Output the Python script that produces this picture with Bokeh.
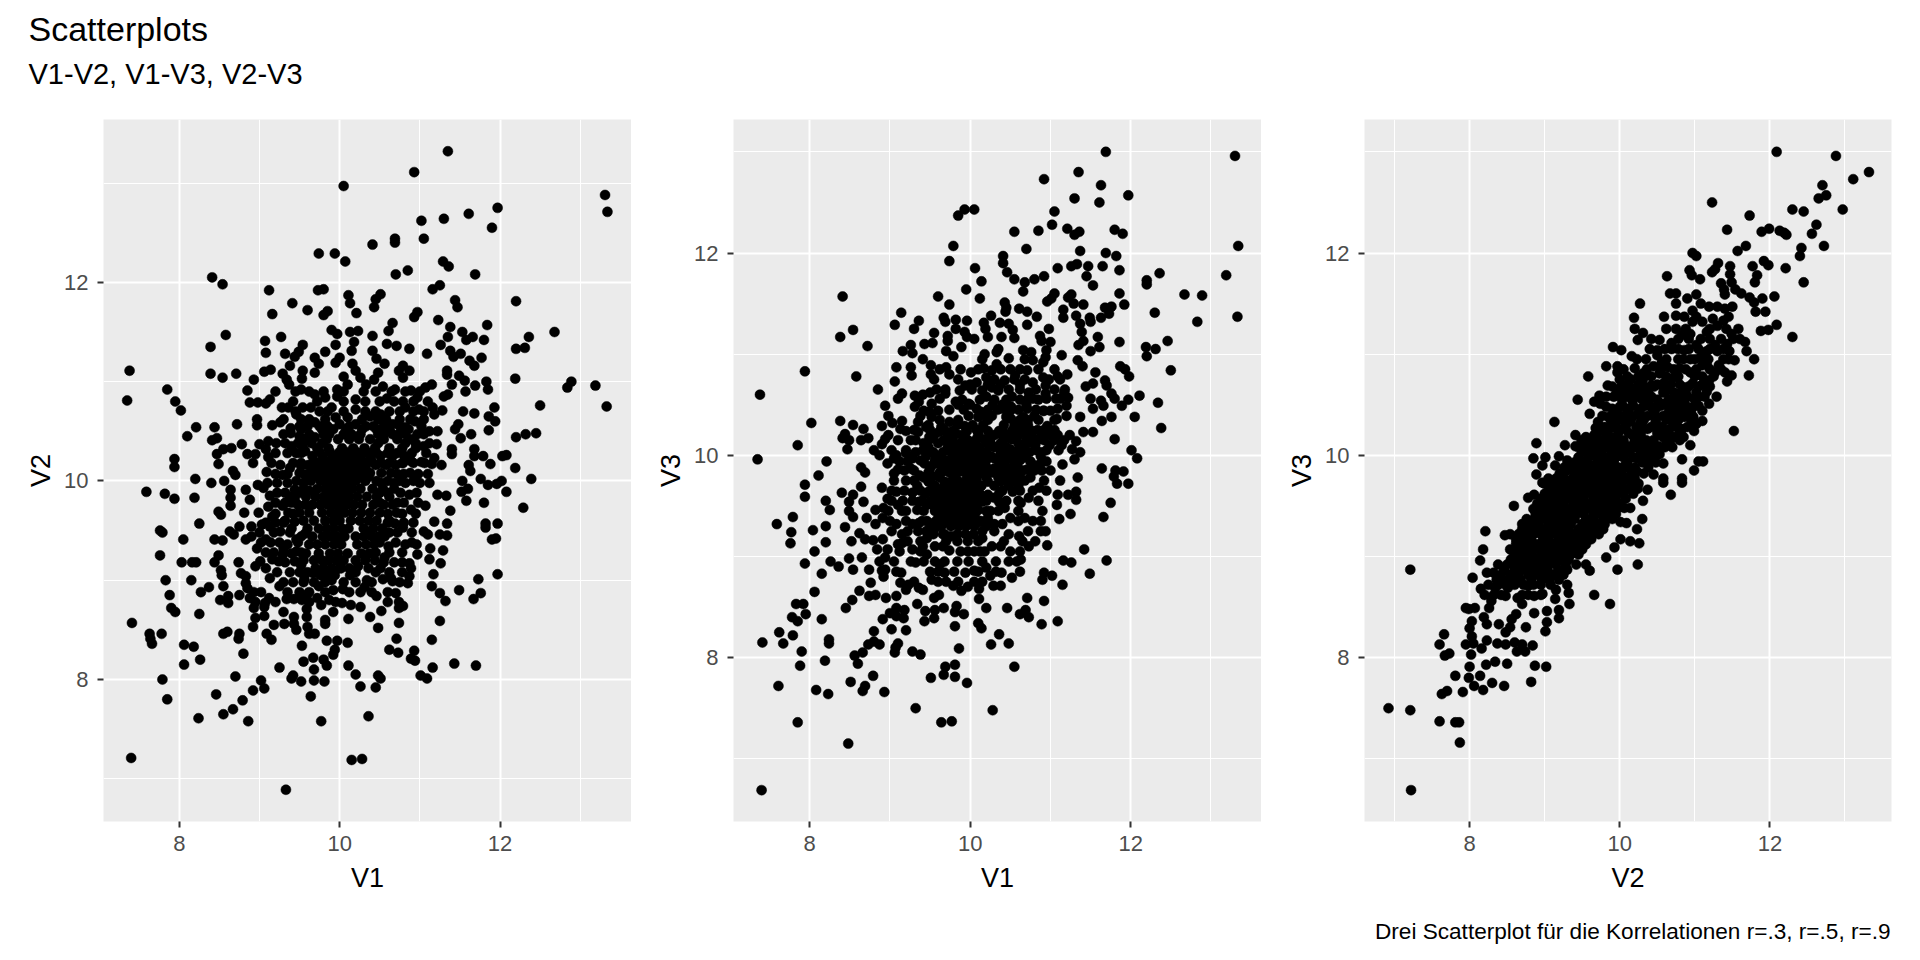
from bokeh.embed import file_html
from bokeh.layouts import column, row
from bokeh.models import ColumnDataSource, FixedTicker, Label, Range1d
from bokeh.plotting import figure
from bokeh.resources import INLINE

TITLE = "Scatterplots"
SUBTITLE = "V1-V2, V1-V3, V2-V3"
CAPTION = "Drei Scatterplot für die Korrelationen r=.3, r=.5, r=.9"
major_ticks = [8, 10, 12]
minor_ticks = [7, 9, 11, 13]

p1_points = [
(11.35,13.32),(10.93,13.11),(10.05,12.97),(13.31,12.88),(13.34,12.71),(11.97,12.75),(11.90,12.55),(11.61,12.69),(11.30,12.64),(11.02,12.62),(11.05,12.44),(10.69,12.44),(10.69,12.40),(10.41,12.38),(9.74,12.29),(9.94,12.29),(10.07,12.21),(11.29,12.21),(11.36,12.16),(10.85,12.12),(10.70,12.08),(11.69,12.08),(8.41,12.05),(8.54,11.98),(9.12,11.92),(9.73,11.92),(9.80,11.93),(11.16,11.93),(11.25,11.97),(10.11,11.87),(10.13,11.79),(10.51,11.88),(10.45,11.83),(10.43,11.75),(12.20,11.81),(11.44,11.82),(11.47,11.75),(9.41,11.79),(9.60,11.72),(9.85,11.71),(9.80,11.67),(9.16,11.68),(10.21,11.69),(10.97,11.70),(10.93,11.65),(11.23,11.62),(10.66,11.59),(11.84,11.57),(11.38,11.55),(10.61,11.51),(12.68,11.50),(9.90,11.52),(9.97,11.48),(10.13,11.50),(10.23,11.51),(11.53,11.50),(11.66,11.45),(11.58,11.42),(11.35,11.45),(12.36,11.45),(8.58,11.47),(9.27,11.45),(9.07,11.41),(10.41,11.46),(10.18,11.40),(11.80,11.42),(8.39,11.35),(9.54,11.37),(9.95,11.37),(10.59,11.38),(10.71,11.36),(10.87,11.33),(12.20,11.33),(12.31,11.34),(11.26,11.37),(9.08,11.29),(9.32,11.28),(9.49,11.30),(9.82,11.30),(10.15,11.31),(10.41,11.31),(11.09,11.28),(11.38,11.31),(11.51,11.28),(9.69,11.24),(10.0,11.24),(9.44,11.25),(10.46,11.23),(11.42,11.25),(11.77,11.24),(11.62,11.21),(11.68,11.16),(10.56,11.18),(10.79,11.16),(9.74,11.18),(9.38,11.16),(9.95,11.19),(10.16,11.18),(7.38,11.11),(8.39,11.08),(8.71,11.08),(8.54,11.04),(9.06,11.10),(9.14,11.12),(9.29,11.08),(9.54,11.11),(9.69,11.09),(10.87,11.11),(11.34,11.11),(10.2,11.11),(10.48,11.09),(10.74,11.11),(11.34,11.07),(8.93,11.02),(9.34,11.02),(9.53,11.03),(10.05,11.05),(10.43,11.02),(11.49,11.06),(11.56,11.01),(12.19,11.03),(10.79,11.04),(10.26,11.04),(12.89,11.0),(12.84,10.94),(13.19,10.96),(13.33,10.75),(7.35,10.81),(7.85,10.92),(7.95,10.80),(8.02,10.71),(8.85,10.91),(8.88,10.79),(8.98,10.79),(9.08,10.78),(9.13,10.82),(9.52,10.92),(9.37,10.97),(9.69,10.87),(9.97,10.92),(10.1,10.97),(10.33,10.97),(10.54,10.95),(10.69,10.92),(10.89,10.91),(11.07,10.94),(11.15,10.97),(11.4,10.97),(11.57,10.9),(11.69,10.96),(11.83,11.0),(11.85,10.92),(11.35,10.87),(11.3,10.85),(9.97,10.85),(9.82,10.84),(10.2,10.82),(10.59,10.83),(10.79,10.8),(10.97,10.84),(10.82,10.74),(11.93,10.74),(12.5,10.76),(9.28,10.74),(9.36,10.74),(9.54,10.74),(9.64,10.74),(9.9,10.74),(10.2,10.72),(10.99,10.72),(11.16,10.74),(11.28,10.71),(11.54,10.70),(11.68,10.68),(11.86,10.65),(11.94,10.6),(11.18,10.67),(10.51,10.67),(10.38,10.65),(9.95,10.64),(10.1,10.64),(9.46,10.67),(8.97,10.62),(8.97,10.56),(8.72,10.57),(9.26,10.59),(9.16,10.56),(9.69,10.59),(8.44,10.54),(8.21,10.54),(9.39,10.53),(10,10.57),(10.2,10.57),(10.33,10.55),(10.66,10.57),(10.82,10.54),(10.94,10.60),(11.48,10.57),(11.44,10.52),(11.86,10.51),(11.12,10.5),(11.22,10.5),(11.64,10.47),(12.45,10.48),(12.32,10.47),(12.2,10.44),(8.1,10.45),(8.47,10.43),(8.41,10.41),(9.39,10.48),(9.69,10.44),(9.87,10.47),(10.26,10.47),(10.48,10.47),(10.74,10.47),(10.97,10.47),(9.5,10.45),(11.51,10.43),(8.78,10.37),(8.55,10.32),(8.65,10.33),(9.0,10.37),(9.11,10.4),(9.21,10.38),(9.4,10.35),(9.54,10.35),(9.08,10.32),(11.21,10.37),(11.68,10.32),(11.05,10.35),(11.4,10.32),(11.4,10.27),(8.47,10.27),(8.85,10.27),(8.95,10.27),(9.11,10.24),(9.46,10.28),(9.57,10.3),(7.94,10.22),(7.94,10.14),(8.49,10.17),(8.92,10.18),(11.79,10.25),(12.08,10.26),(12.03,10.25),(11.68,10.25),(11.18,10.23),(11.88,10.17),(11.61,10.16),(11.63,10.1),(12.19,10.13),(11.15,10.17),(11.27,10.16),(11.02,10.19),(10.89,10.2),(10.79,10.18),(9.26,10.16),(9.38,10.13),(9.52,10.15),(8.67,10.1),(8.7,10.06),(9.09,10.09),(9.29,10.06),(9.57,10.06),(8.2,10.02),(12.39,10.02),(11.76,10.02),(11.53,10.0),(12.02,10.0),
(7.59,9.89),(7.82,9.87),(7.94,9.82),(8.19,9.83),(8.4,9.98),(8.56,10.0),(8.64,9.91),(8.64,9.83),(8.64,9.75),(8.83,9.91),(8.88,9.81),(8.98,9.96),(9.05,9.93),(9.13,9.85),(9.11,9.74),(9.29,9.75),(8.49,9.69),(8.52,9.66),(8.81,9.68),(8.99,9.68),(9.16,9.64),(9.36,9.68),(9.44,9.91),(9.44,9.82),(9.62,9.9),(9.57,9.76),(8.25,9.57),(8.75,9.54),(8.9,9.54),(9.03,9.56),(9.13,9.54),(9.26,9.49),(8.63,9.49),(8.68,9.46),(9.44,9.59),(7.76,9.5),(7.79,9.48),(8.05,9.41),(8.44,9.41),(8.54,9.4),(8.83,9.41),(8.9,9.44),(9.08,9.41),(9.46,9.41),(9.57,9.47),(8.97,9.32),(9.3,9.32),(9.29,9.26),(9.46,9.29),(7.76,9.25),(8.49,9.25),(8.03,9.18),(8.16,9.18),(8.21,9.18),(8.44,9.18),(8.74,9.18),(9.01,9.19),(9.16,9.21),(8.95,9.14),(9.08,9.12),(9.24,9.19),(9.44,9.19),(9.52,9.15),(8.52,9.1),(8.53,9.05),(8.77,9.07),(8.83,9.04),(7.83,9.0),(8.15,9.0),(9.13,9.02),(9.56,9.01),(9.67,9.07),(8.37,8.93),(8.27,8.88),(8.55,8.94),(8.83,8.97),(8.85,8.92),(8.93,8.88),(8.75,8.85),(8.61,8.84),(8.88,8.82),(9.25,8.94),(7.88,8.85),(8.51,8.8),(8.61,8.77),(9.34,8.81),(9.43,8.81),(9.53,8.8),(9.59,8.85),(9.12,8.82),(9.07,8.77),(8.93,8.72),(9.06,8.73),(7.9,8.72),(7.95,8.68),(8.25,8.66),(9.3,8.68),(9.59,8.71),(9.59,8.63),(9.43,8.63),(9.06,8.64),(8.95,8.62),(9.82,8.6),(9.82,8.56),(7.41,8.57),(8.92,8.53),(9.18,8.55),(9.31,8.56),(9.43,8.56),(9.46,8.5),(9.6,8.53),(10.11,8.61),(10.38,8.63),(10.74,8.57),(11.25,8.59),(10.48,8.52),(10.52,8.69),(8.55,8.46),(8.6,8.48),(8.75,8.46),(8.74,8.41),(9.09,8.46),(9.15,8.4),(9.62,8.46),(9.69,8.46),(7.63,8.46),(7.64,8.41),(7.66,8.36),(7.78,8.46),(10.71,8.41),(11.15,8.4),(9.84,8.39),(9.97,8.39),(10.1,8.37),(8.06,8.35),(8.18,8.33),(9.53,8.34),(8.8,8.26),(9.94,8.3),(9.92,8.25),(10.62,8.3),(10.73,8.27),(10.93,8.29),(10.89,8.21),(10.94,8.19),(8.26,8.2),(8.06,8.15),(9.25,8.12),(9.55,8.18),(9.67,8.22),(9.8,8.2),(9.84,8.14),(9.68,8.1),(10.11,8.14),(11.16,8.12),(11.43,8.16),(11.7,8.14),(8.7,8.03),(7.79,8.0),(9.4,8.01),(9.42,8.04),(9.52,7.98),(9.68,7.99),(9.81,7.98),(9.02,7.99),(9.06,7.91),(8.92,7.89),(10.2,8.05),(10.48,8.04),(10.51,8.01),(10.26,7.93),(10.45,7.92),(11.01,8.04),(11.09,8.01),(8.46,7.85),(8.79,7.79),(9.64,7.83),(7.85,7.8),(8.67,7.7),(8.55,7.65),(8.24,7.61),(8.86,7.58),(9.77,7.58),(10.36,7.63),(7.4,7.21),(10.15,7.19),(10.28,7.2),(9.33,6.89),
(10.87,9.86),(11.07,9.75),(11.18,9.59),(11.38,9.7),(11.33,9.85),(11.22,9.86),(11.58,9.8),(11.52,9.89),(11.6,9.92),(11.8,9.78),(12.08,9.89),(11.85,9.96),(11.96,9.97),(12.29,9.73),(11.82,9.57),(11.82,9.53),(11.97,9.57),(11.34,9.57),(11.34,9.45),(11.25,9.46),(11.1,9.46),(11.05,9.49),(11.9,9.41),(11.95,9.42),(11.29,9.3),(11.13,9.32),(11.12,9.21),(11.26,9.17),(11.97,9.06),(11.73,9.01),(11.17,9.06),(11.15,8.94),(11.49,8.9),(11.76,8.87),(11.67,8.81),(11.25,8.87),(11.32,8.79),(10.97,9.26),(10.87,9.17),(10.89,9.12),(10.82,9.36),(10.96,9.36),(10.87,9.04),(10.85,8.97),(10.64,9.02),(10.54,9.01),(10.66,8.99),(10.7,8.87),(10.74,8.78),(10.79,8.74),(10.74,8.72),(10.46,8.84),(10.34,9.0),(10.26,8.88),(10.31,8.93),(10.04,8.91),(9.74,8.94),(9.92,8.9),(9.72,8.82),(9.77,8.75),(9.92,8.68),(9.87,8.8),(10.03,8.77),(10.14,8.75),(10.26,8.73),(9.9,9.0),(10.13,9.05),(10,9.12),(10.23,9.14),(10.36,9.12),(10.51,9.12),(10.56,9.23),(10.61,9.34),(10.56,9.44),(10.71,9.68),(10.89,9.71),(10.69,9.57),(10.79,9.53),(10.38,9.49),
]
p1_core_rows = [
(10.9,[9.2,9.45,9.62,9.8,10.05,10.3,10.45,10.65,10.82,11.0]),
(10.8,[9.42,9.72,10.05,10.32,10.5,10.68,10.92,11.1]),
(10.7,[9.45,9.75,9.85,10.05,10.32,10.45,10.62,10.75,10.92,11.05]),
(10.62,[9.3,9.52,9.62,9.82,10.28,10.48,10.58,10.75,10.88,11.05]),
(10.55,[9.5,9.6,9.75,9.85,10.12,10.42,10.55,10.75,11.02]),
(10.52,[9.52,9.78,9.92,10.08,10.28,10.46,10.62,10.86]),
(10.47,[9.3,9.62,9.8,10.05,10.15,10.55,10.66,10.82,11.05]),
(10.42,[9.58,9.84,9.98,10.12,10.24,10.38,10.55,10.72,10.9]),
(10.38,[9.32,9.48,9.65,9.78,10.48,10.82,10.95,11.12]),
(10.33,[9.72,9.86,10.03,10.17,10.31,10.44,10.62,10.78,10.95]),
(10.29,[9.75,9.88,10.0,10.1,10.21,10.34]),
(10.28,[9.2,9.35,9.52,10.46,10.6,10.72,10.9,11.08]),
(10.25,[9.66,9.79,9.92,10.04,10.14,10.26,10.38,10.51,10.66,10.81]),
(10.2,[9.68,9.78,9.88,9.98,10.08,10.18,10.28,10.4]),
(10.18,[9.15,9.42,9.52,10.52,10.62,10.78,10.92,11.06]),
(10.16,[9.61,9.73,9.83,9.93,10.03,10.12,10.22,10.33,10.45,10.58,10.7]),
(10.12,[9.66,9.76,9.86,9.96,10.08,10.2,10.32]),
(10.08,[9.5,9.7,9.8,9.88,9.97,10.06,10.16,10.27,10.38,10.52,10.64,10.88]),
(10.07,[9.2,9.35,9.6,10.72,10.8,10.98,11.1]),
(10.04,[9.6,9.73,9.82,9.9,10.0,10.08,10.15,10.25,10.36]),
(10.0,[9.46,9.64,9.76,9.85,9.94,10.02,10.11,10.2,10.32,10.46,10.6,10.75,10.92]),
(9.98,[9.1,9.22,9.35,9.55,10.52,10.68,10.82,11.0,11.12]),
(9.92,[9.55,9.72,9.82,9.9,9.98,10.07,10.16,10.26,10.41,10.54,10.68]),
(9.88,[9.22,9.32,9.5,10.5,10.6,10.76,10.96]),
(9.84,[9.38,9.58,9.7,9.8,9.88,9.96,10.04,10.12,10.22,10.34,10.46,10.62]),
(9.78,[9.2,9.32,9.4,10.5,10.72,10.8,10.98]),
(9.76,[9.48,9.66,9.76,9.85,9.92,10.0,10.09,10.18,10.28,10.42,10.55,10.66]),
(9.68,[9.5,9.62,9.78,9.89,9.98,10.06,10.16,10.27,10.38,10.5]),
(9.67,[9.2,9.42,10.6,10.78,10.95]),
(9.6,[9.32,9.55,9.68,9.82,9.92,10.0,10.14,10.25,10.36,10.46,10.62]),
(9.58,[9.08,9.2,9.3,10.6,10.8,10.92]),
(9.52,[9.4,9.6,9.74,9.84,9.93,10.03,10.11,10.3,10.42,10.53]),
(9.48,[9.0,9.18,9.38,10.62,10.72,10.9]),
(9.44,[9.52,9.66,9.79,9.88,9.97,10.06,10.2,10.3,10.4,10.48]),
(9.38,[9.02,9.14,9.25,9.48,10.5,10.7,10.9]),
(9.36,[9.35,9.62,9.72,9.82,9.93,10.02,10.22,10.33,10.43]),
(9.28,[9.08,9.18,9.52,10.45,10.62,10.78]),
(9.27,[9.4,9.58,9.74,9.88,9.98,10.1,10.27,10.37]),
(9.2,[9.55,9.68,9.78,9.86,9.96,10.05,10.2,10.32,10.44]),
(9.18,[9.32,9.5,10.55,10.68,10.78]),
(9.12,[9.7,9.8,9.9,10.02,10.12]),
(9.08,[9.22,9.38,9.5,9.6,10.2,10.45,10.62,10.78]),
(9.05,[9.76,9.84,9.94]),
(8.98,[9.3,9.42,9.55,9.68,9.82,10.05,10.2,10.4,10.75]),
(8.88,[9.02,9.35,9.5,9.62,9.82,10.12,10.4,10.6]),
(8.78,[8.95,9.2,9.62,9.95,10.6]),
]

p2_points = [
(11.69,13.0),(13.3,12.96),(11.35,12.8),(10.92,12.73),(11.63,12.67),(11.97,12.57),(11.3,12.54),(11.61,12.5),(10.05,12.43),(9.93,12.43),(9.85,12.37),(11.05,12.41),(11.02,12.28),(10.55,12.21),(10.85,12.22),(11.21,12.24),(11.3,12.18),(11.36,12.21),(11.8,12.23),(11.9,12.19),(9.79,12.07),(10.7,12.04),(11.37,12.02),(11.69,12.0),(11.82,11.97),(13.34,12.07),(10.41,11.97),(10.41,11.9),(9.74,11.92),(10.06,11.85),(10.46,11.81),(10.55,11.74),(11.26,11.87),(11.33,11.89),(11.47,11.87),(11.65,11.87),(11.09,11.85),(11.86,11.83),(12.36,11.8),(13.19,11.78),(11.45,11.77),(10.92,11.77),(10.8,11.74),(10.68,11.71),(10.14,11.72),(12.2,11.73),(12.2,11.69),(11.53,11.68),(9.95,11.64),(10.66,11.62),(8.41,11.57),(9.6,11.57),(10.12,11.55),(11.05,11.6),(11.01,11.55),(10.96,11.52),(11.26,11.59),(11.22,11.56),(11.86,11.6),(12.67,11.59),(12.89,11.58),(9.74,11.49),(10.43,11.51),(10.45,11.46),(11.29,11.5),(11.41,11.49),(11.68,11.46),(11.76,11.47),(11.92,11.49),(10.61,11.45),(10.71,11.42),(11.16,11.44),(9.14,11.41),(12.3,11.41),(10.26,11.38),(10.44,11.42),(9.67,11.36),(9.69,11.32),(9.82,11.34),(9.96,11.33),(9.36,11.33),(9.06,11.29),(10.83,11.37),(11.16,11.36),(11.32,11.38),(11.49,11.36),(11.63,11.36),(11.73,11.4),(11.5,11.32),(13.33,11.37),(12.83,11.32),(10.17,11.31),(10.37,11.31),(10.48,11.3),(10.71,11.29),(11.37,11.3),(9.3,11.25),(8.54,11.24),(10.19,11.25),(9.82,11.25),(10.53,11.24),(10.98,11.25),(11.39,11.22),(9.55,11.21),(9.93,11.22),(8.38,11.17),(9.72,11.18),(9.96,11.17),(10.22,11.17),(10.39,11.17),(10.55,11.16),(10.87,11.18),(10.05,11.15),(9.72,11.13),(10.89,11.13),(11.59,11.17),(11.0,11.12),(9.43,11.1),(9.53,11.11),(11.41,11.13),(11.35,11.09),(11.86,11.12),(12.46,11.13),(9.26,11.09),(9.89,11.07),(8.72,11.08),(11.61,11.07),(11.5,11.03),(9.16,11.03),(9.7,11.03),(10.35,11.05),(10.33,11.02),(10.66,11.04),(10.76,11.02),(10.95,11.04),(12.19,11.07),(12.31,11.05),(12.2,10.98),(9.28,11.01),(9.79,10.98),(10.18,11.0),(10.94,10.97),(11.14,10.99),(9.41,10.95),(10.15,10.95),(10.48,10.96),(10.68,10.95),(10.78,10.94),(10.33,10.9),(10.91,10.92),(11.34,10.94),(11.4,10.88),(9.51,10.89),(9.08,10.87),(9.26,10.87),(9.7,10.87),(11.87,10.88),(11.93,10.85),(12.5,10.84),(7.94,10.83),(10.01,10.82),(10.17,10.86),(10.27,10.84),(10.38,10.85),(10.71,10.84),(11.56,10.82),(11.98,10.78),(8.58,10.78),(9.27,10.79),(9.51,10.8),(9.74,10.8),(11.09,10.78),(11.21,10.8),(10.2,10.77),(10.56,10.79),(10.91,10.77),(10.43,10.74),(9.06,10.73),(10.08,10.72),(10.78,10.72),(11.68,10.74),(11.53,10.71),(11.44,10.68),(10.94,10.69),(9.94,10.69),(10.27,10.67),(8.85,10.65),(9.69,10.65),(9.87,10.64),(10.15,10.64),(10.35,10.64),(11.7,10.69),(9.5,10.62),(9.41,10.6),(9.31,10.59),(9.15,10.61),(11.17,10.62),(10.73,10.62),(10.94,10.61),(11.76,10.61),(12.11,10.59),(7.38,10.6),(10.52,10.58),(9.1,10.56),(9.69,10.61),(10.2,10.58),(10.78,10.56),(11.5,10.56),(11.63,10.54),(11.8,10.56),(11.07,10.56),(11.22,10.57),(11.97,10.55),(12.34,10.52),(9.82,10.53),(9.98,10.51),(9.52,10.51),(9.36,10.53),(11.2,10.49),(11.89,10.49),(11.66,10.49),(8.94,10.49),(9.31,10.48),(10.08,10.46),(11.53,10.46),(10.51,10.48),(10.71,10.46),(11.09,10.46),(9.49,10.43),(10.13,10.43),(10.4,10.46),(10.91,10.44),(10.8,10.39),(9.38,10.39),(11.2,10.39),(11.37,10.38),(9.52,10.38),(8.98,10.39),(9.98,10.39),(10.27,10.39),(11.08,10.36),(11.76,10.38),(12.05,10.38),(8.38,10.34),(9.15,10.34),(10.51,10.36),(11.64,10.34),(9.74,10.33),(10.22,10.35),(9.35,10.33),(8.02,10.32),(8.54,10.3),(8.9,10.29),(9.03,10.32),(9.93,10.29),(10.55,10.29),(10.96,10.29),(9.45,10.28),(9.64,10.28),(12.38,10.27),(9.13,10.26),(8.67,10.26),(9.2,10.24),(9.35,10.23),(10.08,10.25),(10.4,10.25),(10.84,10.25),(9.61,10.23),(11.41,10.23),(11.53,10.23),(8.44,10.21),(8.98,10.2),(9.83,10.21),(10.71,10.2),(10.99,10.2),(11.09,10.2),(11.24,10.2),(10.38,10.21),(8.41,10.17),(8.49,10.15),(8.73,10.17),(8.64,10.15),(9.49,10.18),(8.94,10.16),(9.26,10.15),(9.67,10.15),(9.97,10.15),(10.17,10.16),(10.51,10.16),(10.84,10.15),(11.17,10.15),(11.32,10.14),(11.8,10.16),(8.9,10.11),(7.85,10.1),(9.77,10.11),(10.27,10.1),(10.81,10.1),(10.99,10.1),(11.14,10.1),(11.27,10.06),(8.47,10.06),(8.8,10.05),(9.97,10.06),(10.12,10.06),(10.5,10.06),(12.01,10.05),(8.87,10.0),(9.08,10.0),(9.2,10.02),(9.41,10.05),(9.54,10.03),(9.77,10.02),(9.87,10.02),(10.63,10.03),(11.37,10.03),(7.35,9.96),(8.21,9.94),(8.97,9.92),(9.05,9.97),(9.28,9.97),(9.64,9.96),(9.87,9.93),(10.12,9.97),(10.3,9.97),(10.51,9.97),(10.68,9.98),(10.88,9.99),(11.3,9.96),(12.08,9.97),(11.15,9.91),(9.43,9.92),(9.54,9.91),(9.77,9.9),(10.0,9.9),(10.43,9.92),(10.81,9.9),(10.89,9.93),(8.64,9.88),(9.26,9.87),(9.1,9.86),(11.64,9.87),(10.22,9.87),(10.5,9.87),(10.71,9.86),(8.69,9.83),(9.05,9.82),(9.66,9.84),(9.92,9.84),(10.89,9.85),(11.91,9.84),(11.81,9.85),(8.11,9.8),(9.37,9.8),(9.54,9.79),(10.2,9.8),(10.5,9.8),(11.79,9.79),(11.34,9.78),
(7.94,9.71),(7.94,9.59),(8.4,9.63),(8.64,9.69),(8.9,9.68),(9.08,9.64),(9.28,9.63),(9.48,9.64),(8.54,9.61),(8.97,9.57),(8.2,9.55),(8.49,9.54),(8.67,9.54),(9.1,9.51),(9.28,9.55),(8.25,9.46),(8.82,9.46),(8.92,9.48),(9.15,9.45),(8.49,9.45),(8.54,9.39),(7.79,9.39),(7.59,9.32),(8.71,9.38),(8.91,9.38),(8.82,9.32),(9.08,9.32),(9.28,9.32),(8.2,9.3),(8.44,9.29),(8.04,9.26),(7.77,9.24),(8.62,9.23),(9.15,9.22),(8.52,9.15),(8.69,9.17),(8.79,9.16),(8.91,9.17),(9.15,9.13),(9.1,9.12),(8.2,9.14),(7.76,9.13),(8.06,9.05),(8.84,9.07),(8.97,9.07),(9.28,9.07),(9.74,9.06),(8.94,8.99),(8.49,8.98),(8.65,8.99),(9.26,8.95),(8.87,8.95),(7.94,8.93),(8.26,8.95),(8.36,8.9),(9.32,8.94),(9.84,8.95),(8.74,8.87),(8.94,8.87),(8.54,8.87),(8.9,8.86),(8.15,8.83),(9.14,8.84),(8.92,8.8),(9.52,8.77),(8.76,8.74),(9.13,8.74),(9.23,8.72),(9.2,8.67),(9.36,8.69),(9.41,8.67),(8.06,8.65),(8.62,8.66),(9.79,8.71),(9.89,8.66),(9.97,8.7),(10.11,8.68),(10.29,8.71),(10.38,8.71),(11.15,8.72),(11.49,8.83),(11.02,8.81),(10.92,8.84),(10.9,8.77),(10.52,8.79),(10.39,8.84),(10.25,8.81),(11.16,8.96),(11.26,8.94),(11.7,8.96),(11.42,9.07),(10.96,9.11),(10.63,8.97),(10.48,8.95),(7.83,8.53),(7.92,8.53),(8.53,8.57),(8.45,8.49),(8.74,8.61),(8.82,8.62),(8.95,8.59),(9.08,8.61),(9.55,8.59),(9.61,8.62),(10.71,8.59),(10.11,8.58),(10.92,8.56),(9.34,8.53),(10.2,8.49),(10.46,8.49),(7.95,8.43),(7.78,8.4),(7.85,8.36),(8.15,8.38),(9.08,8.49),(9.18,8.47),(9.0,8.44),(9.08,8.41),(9.17,8.39),(8.91,8.38),(9.44,8.46),(9.56,8.47),(9.67,8.49),(9.83,8.51),(9.81,8.45),(9.92,8.43),(9.43,8.36),(9.55,8.39),(10.62,8.43),(10.69,8.47),(10.73,8.4),(10.89,8.33),(11.09,8.36),(10.1,8.34),(10.14,8.29),(9.81,8.31),(9.02,8.28),(9.2,8.27),(8.8,8.26),(7.62,8.25),(7.79,8.22),(10.36,8.23),(8.24,8.18),(8.24,8.14),(7.41,8.15),(7.67,8.14),(8.8,8.16),(8.73,8.13),(8.87,8.13),(9.1,8.14),(9.07,8.1),(10.26,8.13),(10.48,8.14),(9.86,8.09),(7.9,8.06),(9.06,8.05),(8.66,8.05),(8.56,8.02),(9.28,8.06),(9.38,8.03),(8.19,7.97),(8.6,7.94),(7.88,7.92),(9.81,7.93),(9.69,7.91),(10.55,7.91),(8.79,7.82),(9.67,7.83),(9.81,7.81),(9.51,7.8),(8.51,7.76),(9.96,7.75),(8.69,7.72),(7.61,7.72),(8.08,7.68),(8.66,7.67),(8.93,7.66),(8.23,7.64),(9.32,7.5),(10.28,7.48),(7.85,7.36),(9.64,7.36),(9.77,7.37),(8.48,7.15),(7.4,6.69),
(11.83,9.72),(11.97,9.72),(11.75,9.53),(11.66,9.39),(11.25,9.42),(11.11,9.37),(11.08,9.51),(11.09,9.61),(11.22,9.61),(11.32,9.64),(11.32,9.56),(10.63,9.53),(10.73,9.58),(10.86,9.68),(10.78,9.35),(10.68,9.38),(10.73,9.1),(10.81,9.15),(10.88,9.25),(10.94,9.25),(10.61,9.2),(10.48,9.22),(10.27,9.1),(10.38,9.1),(10.5,9.05),(10.15,9.18),(10.43,9.48),(10.5,9.38),(10.25,9.45),(10.3,9.32),(10.4,9.32),(10.13,9.35),(10.07,9.51),(10.22,9.61),(10.53,9.64),(10.15,8.95),(10.2,8.89),(10.05,8.86),(9.94,8.84),(9.97,9.05),(10.05,9.05),(9.62,8.92),(9.68,8.84),(9.56,8.95),(9.46,9.02),(9.41,9.1),(9.46,9.18),(9.56,9.1),(9.66,9.1),(9.84,9.15),(9.97,9.15),(9.81,9.32),(9.76,9.2),(9.66,9.22),(9.56,9.28),(9.46,9.35),(9.36,9.33),(9.69,9.37),(9.46,9.51),(9.56,9.45),(9.66,9.51),(9.86,9.45),(9.97,9.39),(9.97,9.55),(9.82,9.55),(9.87,9.64),(9.66,9.68),(9.97,9.64),
]
p2_core_rows = [
(10.85,[9.62,9.88,10.1,10.5,10.62,10.85,11.05]),
(10.75,[9.55,9.85,10.3,10.55,10.68,10.98,11.12]),
(10.7,[10.0,10.22,10.38,10.62]),
(10.65,[9.58,10.02,10.48,10.62,10.82,11.05,11.18]),
(10.56,[9.62,10.72,10.95,11.12]),
(10.55,[9.9,10.12,10.3,10.45,10.62,10.85]),
(10.5,[9.85,10.0,10.28,10.4,10.7]),
(10.45,[9.74,9.92,10.22,10.34,10.6,10.82]),
(10.44,[9.42,9.6,10.5,10.92,11.0]),
(10.38,[10.1,10.2,10.45,10.66]),
(10.35,[9.62,9.85,10.62,10.72,10.85,11.05]),
(10.3,[9.48,9.84,10.03,10.16,10.42,10.64,10.72]),
(10.25,[9.3,9.5,9.68,10.62,10.72,10.92,11.05]),
(10.24,[9.78,9.96,10.1,10.22,10.36,10.52,10.78]),
(10.2,[9.55,9.72,9.9,10.1,10.3,10.46,10.6,10.9]),
(10.16,[9.5,9.78,9.95,10.08,10.25,10.42,10.55,10.8]),
(10.15,[9.1,9.32,10.7,10.92,11.05]),
(10.12,[9.42,9.6,9.88,10.02,10.2,10.38,10.6,10.72]),
(10.08,[9.48,9.72,9.84,9.94,10.1,10.3,10.45,10.66]),
(10.05,[9.02,9.2,10.6,10.82,10.95,11.1]),
(10.03,[9.32,9.52,9.66,9.9,10.04,10.2,10.38,10.5,10.74,10.88]),
(9.99,[9.45,9.6,9.8,9.96,10.1,10.26,10.44,10.56]),
(9.95,[9.38,9.56,9.72,9.94,10.04,10.2,10.4,10.62]),
(9.94,[9.12,9.22,10.75,10.95]),
(9.91,[9.62,9.78,9.88,9.98,10.12,10.36,10.55]),
(9.87,[9.5,9.68,9.84,9.92,10.08,10.3,10.4,10.6]),
(9.85,[9.18,9.3,10.3,10.66,10.8,11.0]),
(9.83,[9.48,9.62,9.74,9.85,10.02,10.14,10.28,10.4,10.55]),
(9.78,[9.42,9.62,9.8,9.96,10.08,10.2,10.35,10.45,10.62,10.75]),
(9.75,[9.05,9.2,9.3,10.68,10.92,11.12]),
(9.74,[9.48,9.68,9.76,9.86,9.98,10.08,10.22,10.38,10.55]),
(9.7,[9.34,9.56,9.72,9.82,9.92,10.02,10.14,10.3,10.48,10.6]),
(9.66,[9.52,9.66,9.78,9.88,9.98,10.08]),
(9.65,[9.02,9.18,9.38,10.4,10.62,10.78,10.95]),
(9.62,[9.44,9.6,9.72,9.85,9.94,10.04,10.12,10.36]),
(9.58,[9.55,9.68,9.8,9.9,9.98,10.08,10.3]),
(9.55,[9.02,9.16,9.4,10.2,10.45,10.6,10.85]),
(9.54,[9.36,9.5,9.62,9.74,9.86,9.94,10.02,10.14,10.36]),
(9.5,[9.55,9.68,9.78,9.88,9.98,10.06]),
(9.46,[9.34,9.62,9.72,9.82,9.92,10.02,10.1]),
(9.45,[8.98,9.2,9.42,10.2,10.35,10.6,10.9]),
(9.42,[9.66,9.78,9.86,9.96,10.06]),
(9.38,[9.6,9.76,9.88,9.92,10.02,10.22]),
(9.35,[9.0,9.2,9.4,10.22,10.6,10.88]),
(9.34,[9.56,9.7,9.82,9.9,10.0,10.12]),
(9.3,[9.5,9.64,9.76,9.86,9.95,10.05,10.2]),
(9.25,[9.02,9.22,9.35,9.45,10.15,10.3,10.72]),
(9.22,[9.54,9.68,9.84,9.94,10.04]),
(9.15,[9.22,9.38,9.7,10.1,10.42,10.65]),
(9.05,[9.12,9.38,9.88,10.12,10.18,10.62]),
(8.95,[9.05,9.42,9.68,9.98,10.32,10.58]),
(8.85,[9.08,9.5,9.6,9.8,10.1,10.32,10.62]),
(8.75,[9.3,9.6,9.7,9.85,10.05,10.15]),
]

p3_points = [
(12.09,13.0),(12.88,12.96),(13.32,12.8),(13.11,12.73),(12.7,12.67),(12.75,12.57),(12.65,12.54),(11.23,12.5),(12.97,12.43),(12.3,12.43),(12.45,12.41),(11.73,12.37),(12.62,12.28),(11.43,12.23),(11.89,12.21),(11.99,12.24),(12.13,12.22),(12.19,12.2),(12.22,12.18),(12.56,12.19),(11.68,12.07),(12.72,12.07),(11.57,12.02),(12.42,12.05),(10.97,12.0),(11.02,11.97),(12.4,11.97),(11.31,11.9),(11.92,11.92),(11.98,11.88),(12.21,11.85),(11.77,11.87),(11.47,11.87),(11.27,11.84),(11.23,11.81),(10.93,11.83),(10.96,11.78),(11.07,11.74),(10.63,11.77),(11.47,11.79),(11.83,11.78),(11.8,11.71),(12.45,11.71),(11.35,11.7),(11.49,11.71),(11.39,11.64),(11.54,11.64),(11.4,11.59),(10.67,11.6),(10.75,11.6),(11.02,11.59),(10.9,11.55),(12.06,11.57),(11.9,11.55),(11.62,11.6),(11.73,11.56),(11.79,11.51),(10.75,11.5),(10.27,11.5),(11.08,11.5),(11.19,11.47),(11.3,11.47),(11.5,11.47),(11.81,11.42),(11.94,11.42),(11.4,11.45),(10.97,11.43),(10.75,11.38),(10.86,11.37),(10.59,11.37),(11.45,11.37),(10.19,11.36),(11.02,11.37),(11.24,11.35),(11.38,11.33),(11.1,11.32),(10.97,11.32),(12.09,11.29),(11.3,11.28),(10.62,11.25),(10.2,11.25),(11.88,11.23),(11.98,11.24),(10.31,11.21),(11.16,11.22),(10.83,11.19),(10.94,11.2),(12.3,11.17),(11.49,11.2),(10.24,11.14),(10.53,11.14),(11.08,11.15),(11.35,11.15),(11.51,11.15),(11.67,11.12),(10.69,11.11),(11.02,11.09),(11.27,11.09),(11.43,11.1),(10.69,11.05),(9.91,11.07),(10.02,11.04),(10.5,11.04),(10.86,11.04),(11.16,11.03),(11.3,11.03),(11.46,11.03),(11.69,11.03),(10.16,10.98),(10.23,10.95),(10.5,10.99),(10.78,10.95),(10.94,10.95),(11.08,10.97),(11.53,10.94),(11.79,10.95),(10.56,10.92),(9.82,10.88),(9.97,10.88),(10.2,10.86),(10.45,10.88),(10.64,10.87),(11.16,10.9),(11.32,10.89),(11.1,10.89),(10.8,10.86),(9.97,10.82),(10.31,10.81),(10.53,10.81),(10.94,10.82),(11.27,10.82),(11.4,10.82),(9.58,10.78),(11.72,10.79),(11.49,10.79),(10.0,10.75),(10.15,10.75),(10.31,10.75),(10.72,10.77),(11.19,10.74),(11.43,10.73),(10.58,10.71),(10.42,10.69),(9.84,10.69),(10.86,10.67),(10.17,10.66),(10.97,10.71),(9.96,10.62),(10.07,10.62),(10.28,10.62),(10.61,10.63),(10.78,10.61),(11.16,10.63),(11.13,10.58),(11.29,10.58),(9.44,10.55),(9.73,10.59),(9.82,10.58),(9.66,10.53),(9.74,10.51),(10.99,10.56),(10.17,10.54),(10.39,10.56),(10.86,10.54),(11.19,10.51),(11.05,10.49),(10.04,10.49),(10.56,10.51),(10.72,10.53),(9.9,10.46),(10.12,10.46),(10.28,10.46),(10.48,10.46),(11.1,10.44),(10.89,10.44),(9.6,10.41),(9.77,10.39),(10.75,10.41),(10.02,10.39),(10.17,10.39),(10.37,10.39),(10.58,10.39),(10.86,10.38),(11.1,10.34),(9.13,10.33),(11.02,10.31),(9.71,10.33),(9.9,10.31),(10.12,10.33),(10.28,10.33),(10.48,10.33),(10.72,10.33),(11.52,10.24),(10.99,10.24),(9.74,10.26),(10.04,10.26),(10.37,10.26),(10.64,10.25),(10.83,10.26),(9.66,10.2),(9.41,10.2),(9.49,10.15),(9.85,10.2),(10.17,10.2),(10.53,10.2),(10.75,10.18),(8.89,10.12),(9.27,10.1),(9.41,10.09),(9.68,10.13),(10.01,10.13),(10.31,10.13),(10.67,10.11),(10.8,10.15),(10.94,10.1),(9.57,10.07),(9.85,10.07),(10.17,10.07),(10.42,10.08),(9.19,9.99),(8.85,9.97),(9.01,9.98),(9.66,10.0),(10.01,10.0),(10.53,10.01),(10.83,9.96),(11.05,9.94),(11.11,9.94),(9.3,9.95),(9.46,9.95),(9.85,9.97),(10.23,9.97),(10.39,9.95),(10.58,9.92),(8.97,9.9),(9.14,9.9),(9.63,9.9),(10.07,9.9),(10.99,9.85),(8.89,9.81),(9.3,9.85),(9.74,9.84),(10.23,9.84),(10.45,9.81),(10.58,9.77),(10.83,9.77),
(10.58,9.73),(10.83,9.73),(10.68,9.61),(10.37,9.66),(10.31,9.55),(8.97,9.73),(8.78,9.58),(8.86,9.61),(8.59,9.5),(10.14,9.48),(10.06,9.48),(10.3,9.37),(10.09,9.33),(10.01,9.34),(10.23,9.27),(8.21,9.25),(8.47,9.21),(8.54,9.22),(10.01,9.17),(10.14,9.15),(10.26,9.13),(8.18,9.07),(8.54,9.07),(8.62,9.13),(9.93,9.09),(9.82,8.99),(8.14,8.96),(8.58,8.94),(10.24,8.92),(9.97,8.87),(7.21,8.87),(9.6,8.86),(8.75,8.88),(8.23,8.84),(8.32,8.84),(8.04,8.79),(8.63,8.76),(8.43,8.76),(8.15,8.68),(8.34,8.69),(8.51,8.69),(8.78,8.71),(9.19,8.77),(9.15,8.67),(9.32,8.64),(9.66,8.62),(9.87,8.53),(9.33,8.53),(9.14,8.58),(8.97,8.63),(8.29,8.56),(8.48,8.61),(8.64,8.59),(8.86,8.61),(7.95,8.49),(8.07,8.49),(7.99,8.48),(8.26,8.49),(9.03,8.46),(9.19,8.47),(8.7,8.53),(8.86,8.44),(8.62,8.43),(8.19,8.4),(8.03,8.36),(9.19,8.39),(8.23,8.33),(8.39,8.33),(8.56,8.38),(9.03,8.35),(8.0,8.29),(8.75,8.3),(9.01,8.26),(8.54,8.3),(8.48,8.25),(7.66,8.23),(8.03,8.21),(8.23,8.17),(8.37,8.14),(8.48,8.13),(8.6,8.15),(8.7,8.13),(8.84,8.12),(7.95,8.13),(8.05,8.14),(7.6,8.13),(8.16,8.09),(8.63,8.06),(8.74,8.06),(7.73,8.04),(7.67,8.02),(8.02,8.03),(8.34,7.96),(8.22,7.93),(8.5,7.94),(8.0,7.91),(8.87,7.92),(9.02,7.91),(7.81,7.82),(8.14,7.82),(7.99,7.8),(8.82,7.76),(8.3,7.75),(8.06,7.72),(8.46,7.72),(8.18,7.68),(7.7,7.67),(7.63,7.64),(7.91,7.66),(6.92,7.5),(7.21,7.48),(7.6,7.37),(7.81,7.36),(7.86,7.36),(7.87,7.16),(7.22,6.69),
]
p3_core_rows = [
(11.25,[10.75,10.88,11.2,11.42,11.58]),
(11.15,[10.42,10.78,10.92,11.2,11.6]),
(11.05,[10.4,10.6,10.78,10.92,11.05,11.2,11.38]),
(10.95,[10.35,10.62,10.85,11.0,11.18,11.38,11.45]),
(10.85,[10.05,10.36,10.55,10.72,10.88,11.02,11.2,11.35]),
(10.78,[10.1,10.25,10.42,10.62,10.78,11.0,11.1,11.25]),
(10.7,[10.1,10.25,10.5,10.68,10.8,11.1]),
(10.68,[9.9,10.02,10.32,10.46,10.58,10.92,11.05,11.2]),
(10.62,[10.18,10.38,10.58,10.72,10.88,11.02]),
(10.58,[9.92,10.1,10.22,10.42,10.9,11.05]),
(10.55,[10.03,10.3,10.5,10.65,10.8]),
(10.49,[10.18,10.35,10.55,10.72,10.88]),
(10.48,[9.82,10.0,10.42,10.65,10.8,10.98]),
(10.42,[9.95,10.1,10.25,10.45,10.65,10.8,10.95]),
(10.38,[9.85,9.95,10.1,10.28,10.48,10.68,10.98]),
(10.35,[9.88,10.02,10.15,10.32,10.48,10.62,10.78,10.95]),
(10.28,[9.8,9.95,10.08,10.22,10.42,10.56,10.7,10.9]),
(10.27,[9.68,9.88,10.3,10.5,10.78,10.97]),
(10.22,[9.7,9.82,9.98,10.12,10.28,10.5,10.65,10.8]),
(10.18,[9.55,9.82,9.95,10.28,10.58,10.7,10.85]),
(10.15,[9.6,9.75,9.88,10.05,10.2,10.35,10.45,10.62]),
(10.09,[9.55,9.68,9.8,9.95,10.12,10.22,10.33,10.52]),
(10.08,[9.45,9.62,10.05,10.6,10.7]),
(10.03,[9.5,9.62,9.75,9.9,10.0,10.1,10.28,10.38,10.48]),
(9.98,[9.45,9.58,9.7,9.82,9.95,10.05,10.18,10.33,10.44]),
(9.93,[9.4,9.54,9.7,9.8,9.92,10.1,10.3,10.48]),
(9.88,[9.26,9.36,9.46,9.58,9.74,9.86,9.98,10.08,10.2,10.38]),
(9.82,[9.2,9.4,9.5,9.6,9.68,9.8,9.92,10.02,10.15,10.32]),
(9.77,[9.05,9.15,9.26,9.37,9.47,9.57,9.67,9.77,9.87,9.97,10.08,10.2]),
(9.72,[9.0,9.1,9.2,9.32,9.42,9.52,9.62,9.72,9.82,9.92,10.02,10.15,10.25]),
(9.67,[9.06,9.18,9.3,9.4,9.5,9.6,9.7,9.8,9.9,10.0,10.12,10.24]),
(9.62,[9.0,9.12,9.25,9.35,9.45,9.55,9.65,9.75,9.85,9.95,10.05,10.18]),
(9.57,[8.95,9.08,9.2,9.3,9.42,9.52,9.65,9.75,9.85,9.95,10.08]),
(9.52,[8.9,9.02,9.15,9.25,9.38,9.48,9.6,9.7,9.8,9.9,10.0]),
(9.47,[8.85,8.95,9.08,9.2,9.3,9.42,9.55,9.65,9.75,9.85,9.96]),
(9.42,[8.88,9.0,9.1,9.2,9.32,9.42,9.52,9.65,9.75,9.85,9.95]),
(9.37,[8.76,8.86,8.96,9.08,9.18,9.28,9.4,9.55,9.65,9.78,9.9]),
(9.32,[8.7,8.82,8.92,9.05,9.15,9.25,9.35,9.5,9.6,9.7,9.8]),
(9.27,[8.7,8.8,8.88,9.0,9.12,9.22,9.32,9.45,9.55,9.66,9.78]),
(9.22,[8.65,8.75,8.85,8.95,9.08,9.18,9.28,9.4,9.5,9.6,9.72]),
(9.17,[8.62,8.72,8.82,8.98,9.05,9.18,9.3,9.42,9.52,9.62]),
(9.12,[8.68,8.8,8.9,9.02,9.12,9.22,9.35,9.45,9.55]),
(9.07,[8.64,8.75,8.86,8.98,9.08,9.18,9.3,9.4,9.5]),
(9.02,[8.6,8.72,8.82,8.95,9.05,9.15,9.25,9.35,9.45]),
(8.97,[8.55,8.68,8.78,8.9,9.0,9.1,9.2,9.32]),
(8.92,[8.38,8.5,8.62,8.72,8.85,8.95,9.05,9.15,9.28,9.42,9.55]),
(8.87,[8.46,8.6,8.7,8.82,8.92,9.04,9.18,9.3]),
(8.82,[8.42,8.55,8.65,8.78,8.9,9.02,9.12,9.25]),
(8.77,[8.36,8.52,8.68,8.82,8.96,9.06]),
(8.72,[8.25,8.38,8.48,8.6,8.72,8.85,8.95,9.08,9.3]),
(8.62,[8.2,8.32,8.42,8.7,8.78,8.95]),
]

FONT = "Liberation Sans"


def panel(points, core_rows, xlabel, ylabel, xr, yr, left, frame_w, right):
    xs = [a for a, _ in points] + [x for _, row_x in core_rows for x in row_x]
    ys = [b for _, b in points] + [y for y, row_x in core_rows for _ in row_x]
    p = figure(width=left + frame_w + right, height=792, output_backend="svg",
               toolbar_location=None, x_range=Range1d(*xr), y_range=Range1d(*yr),
               min_border_left=left, min_border_right=right,
               min_border_top=0, min_border_bottom=90)
    p.background_fill_color = "#EBEBEB"
    p.border_fill_color = "white"
    p.outline_line_color = None
    p.scatter("x", "y", source=ColumnDataSource(dict(x=xs, y=ys)),
              size=10, color="black", line_color="black", line_width=0.5)
    for ax, lab in ((p.xaxis[0], xlabel), (p.yaxis[0], ylabel)):
        ax.ticker = FixedTicker(ticks=major_ticks, minor_ticks=minor_ticks)
        ax.axis_label = lab
        ax.axis_label_text_font = FONT
        ax.axis_label_text_font_size = "27px"
        ax.axis_label_text_font_style = "normal"
        ax.axis_label_text_color = "black"
        ax.major_label_text_font = FONT
        ax.major_label_text_font_size = "22px"
        ax.major_label_text_color = "#4D4D4D"
        ax.major_tick_line_color = "#333333"
        ax.major_tick_line_width = 2
        ax.major_tick_out = 6
        ax.major_tick_in = 0
        ax.minor_tick_line_color = None
        ax.axis_line_color = None
    p.xaxis[0].major_label_standoff = 8
    p.xaxis[0].axis_label_standoff = 9
    p.yaxis[0].major_label_standoff = 9
    p.yaxis[0].axis_label_standoff = 5
    for g in (p.xgrid[0], p.ygrid[0]):
        g.grid_line_color = "white"
        g.grid_line_width = 2
        g.minor_grid_line_color = "white"
        g.minor_grid_line_width = 1
        g.level = "underlay"
    return p


def text_strip(height, labels):
    p = figure(width=1904, height=height, output_backend="svg", toolbar_location=None,
               x_axis_location=None, y_axis_location=None, min_border=0,
               x_range=Range1d(0, 1904), y_range=Range1d(0, height))
    p.outline_line_color = None
    p.xgrid.visible = False
    p.ygrid.visible = False
    for item in labels:
        p.add_layout(item)
    return p


p1 = panel(p1_points, p1_core_rows, "V1", "V2", (7.055, 13.64), (6.57, 13.64), 103, 528, 0)
p2 = panel(p2_points, p2_core_rows, "V1", "V3", (7.05, 13.63), (6.38, 13.32), 102, 528, 0)
p3 = panel(p3_points, p3_core_rows, "V2", "V3", (6.6, 13.62), (6.38, 13.32), 103, 527, 13)

header = text_strip(119, [
    Label(x=28, y=72, x_units="screen", y_units="screen", text=TITLE,
          text_font=FONT, text_font_size="34px", text_color="black"),
    Label(x=28, y=30, x_units="screen", y_units="screen", text=SUBTITLE,
          text_font=FONT, text_font_size="29px", text_color="black"),
])
footer = text_strip(41, [
    Label(x=1890, y=9, x_units="screen", y_units="screen", text=CAPTION, text_align="right",
          text_font=FONT, text_font_size="22.6px", text_color="black"),
])

layout = column(header, row(p1, p2, p3, spacing=0), footer, spacing=0)
open("out.html", "w").write(file_html(layout, INLINE))
